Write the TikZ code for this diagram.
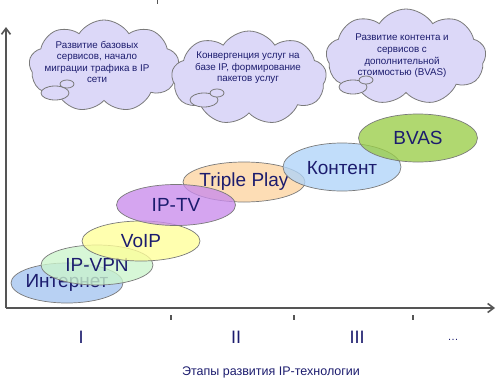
\documentclass[tikz,border=0pt]{standalone}
\usepackage{fontspec}
\setmainfont{Liberation Sans}
\usetikzlibrary{shapes.symbols,shapes.geometric,arrows.meta}
\definecolor{navy}{HTML}{1C1C6E}
\definecolor{cloudfill}{HTML}{DCD8F8}
\definecolor{edgegray}{HTML}{7A7A7A}
\definecolor{axisgray}{HTML}{555555}
\definecolor{cInet}{HTML}{A4C4F0}
\definecolor{cVpn}{HTML}{CCF5CC}
\definecolor{cVoip}{HTML}{FFFF99}
\definecolor{cTv}{HTML}{C98CEC}
\definecolor{cTriple}{HTML}{FCD3A0}
\definecolor{cKont}{HTML}{B0D4F8}
\definecolor{cBvas}{HTML}{9ACD48}
\tikzset{
  cloudbox/.style={cloud, cloud puffs=9, cloud puff arc=115, cloud ignores aspect,
    fill=cloudfill, draw=edgegray, line width=0.8pt, inner sep=0pt},
  bubble/.style={ellipse, fill=cloudfill, draw=edgegray, line width=0.8pt, inner sep=0pt},
  cloudtext/.style={text=navy, font=\fontsize{9.8}{11.6}\selectfont, align=center},
  stage/.style={ellipse, draw=edgegray, line width=0.7pt, fill opacity=0.78, inner sep=0pt},
  stagetext/.style={text=navy, font=\fontsize{19}{21}\selectfont},
  axisline/.style={draw=axisgray, line width=1.6pt},
  tick/.style={draw=axisgray, line width=1.6pt},
  roman/.style={text=navy, font=\fontsize{18}{20}\selectfont}
}
\begin{document}
\begin{tikzpicture}[x=1pt,y=-1pt]
\useasboundingbox (0,0) rectangle (500,383);
% axes
\coordinate (origin) at (6,308);
\coordinate (ytop) at (6,27);
\coordinate (xend) at (495,308);
\draw[axisline, -{Straight Barb[length=6pt,width=9pt]}] (origin) -- (ytop);
\draw[axisline, -{Straight Barb[length=6pt,width=9pt]}] (origin) -- (xend);
\coordinate (m0a) at (157,0); \coordinate (m0b) at (157,4);
\draw[draw=axisgray, line width=0.8pt] (m0a) -- (m0b);
\coordinate (t1a) at (171,315); \coordinate (t1b) at (171,320);
\coordinate (t2a) at (294,315); \coordinate (t2b) at (294,320);
\coordinate (t3a) at (413,315); \coordinate (t3b) at (413,320);
\draw[tick] (t1a) -- (t1b);
\draw[tick] (t2a) -- (t2b);
\draw[tick] (t3a) -- (t3b);
\node[roman] (r1) at (81,337) {I};
\node[roman] (r2) at (236,337) {II};
\node[roman] (r3) at (357,337) {III};
\node[text=navy, font=\fontsize{11}{12}\selectfont] (r4) at (453,340) {\dots};
\node[text=navy, font=\fontsize{12.5}{14}\selectfont] (axlabel) at (271,372) {Этапы развития IP-технологии};
% clouds
\node[cloudbox, minimum width=150pt, minimum height=92pt] (c1) at (104,66) {};
\node[bubble, minimum width=28pt, minimum height=14pt] (b1a) at (55,93) {};
\node[bubble, minimum width=14pt, minimum height=8pt] (b1b) at (67,84) {};
\node[cloudtext] (c1t) at (97,62) {Развитие базовых\\сервисов, начало\\миграции трафика в IP\\сети};
\node[cloudbox, minimum width=155pt, minimum height=94pt] (c2) at (249,78) {};
\node[bubble, minimum width=28pt, minimum height=14pt] (b2a) at (204,100) {};
\node[bubble, minimum width=14pt, minimum height=8pt] (b2b) at (217,93) {};
\node[cloudtext] (c2t) at (248,68) {Конвергенция услуг на\\базе IP, формирование\\пакетов услуг};
\node[cloudbox, minimum width=160pt, minimum height=96pt] (c3) at (406,57) {};
\node[bubble, minimum width=28pt, minimum height=14pt] (b3a) at (353,87) {};
\node[bubble, minimum width=14pt, minimum height=8pt] (b3b) at (366,80) {};
\node[cloudtext] (c3t) at (402,56) {Развитие контента и\\сервисов с\\дополнительной\\стоимостью (BVAS)};
% stages
\node[stage, fill=cInet, minimum width=112pt, minimum height=40pt] (e1) at (67,283) {};
\node[stagetext] (e1t) at (67,283) {Интернет};
\node[stage, fill=cVpn, minimum width=112pt, minimum height=40pt] (e2) at (97,265) {};
\node[stagetext] (e2t) at (97,265) {IP-VPN};
\node[stage, fill=cVoip, minimum width=118pt, minimum height=40pt] (e3) at (141,241) {};
\node[stagetext] (e3t) at (141,241) {VoIP};
\node[stage, fill=cTriple, minimum width=122pt, minimum height=40pt] (e5) at (244,182) {};
\node[stagetext] (e5t) at (244,182) {Triple Play};
\node[stage, fill=cTv, minimum width=119pt, minimum height=41pt] (e4) at (176,205) {};
\node[stagetext] (e4t) at (176,205) {IP-TV};
\node[stage, fill=cKont, minimum width=118pt, minimum height=48pt] (e6) at (342,167) {};
\node[stagetext] (e6t) at (342,168) {Контент};
\node[stage, fill=cBvas, minimum width=119pt, minimum height=48pt] (e7) at (418,138) {};
\node[stagetext] (e7t) at (418,138) {BVAS};
\end{tikzpicture}
\end{document}
